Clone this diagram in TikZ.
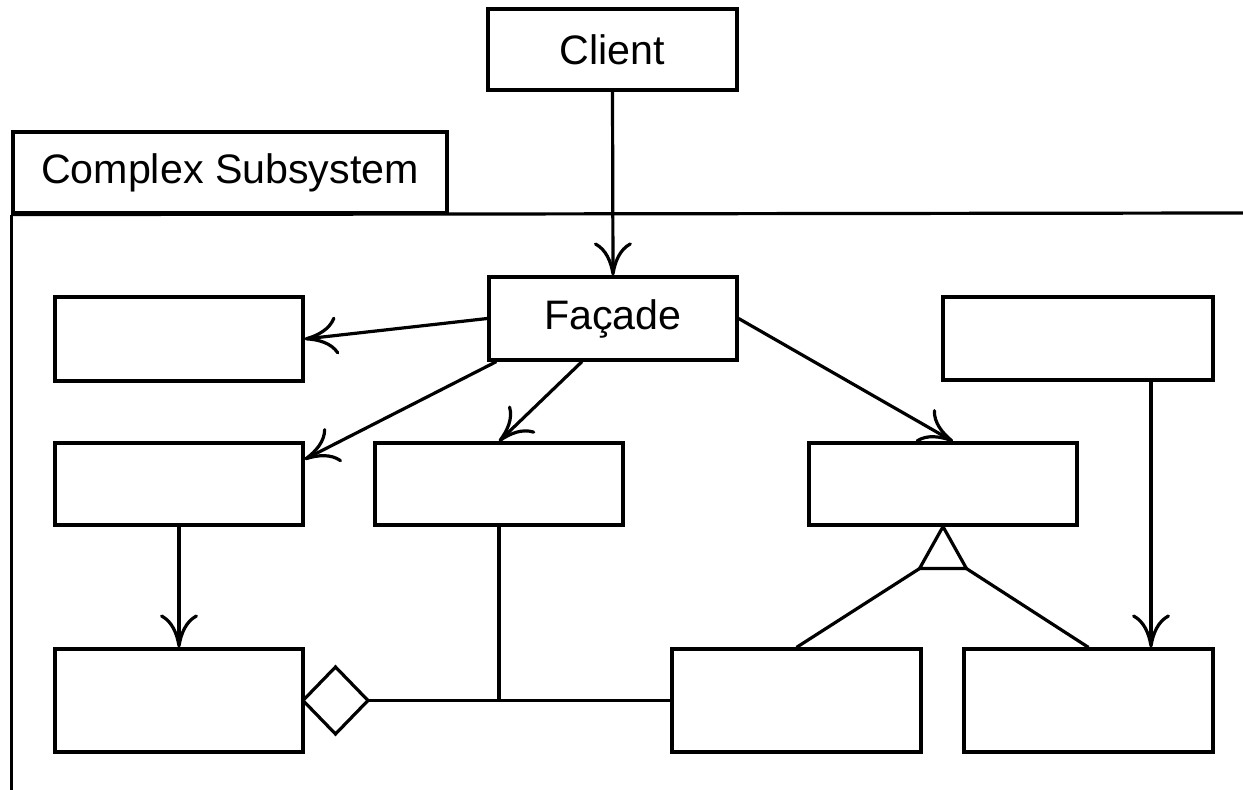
\documentclass[tikz,border=0pt]{standalone}
\usepackage{fontspec}
\setmainfont{Liberation Sans}
\usetikzlibrary{arrows.meta,calc,shapes.geometric}
\begin{document}
\begin{tikzpicture}[x=0.5pt,y=-0.5pt,
  line width=1.6pt,
  font=\fontsize{20.6}{24}\selectfont,
  cls/.style={draw, inner sep=0pt, fill=white, minimum width=124pt, minimum height=41pt},
  tall/.style={cls, minimum height=51.5pt},
  dep/.style={-{Computer Modern Rightarrow[length=16.5pt,width=19pt]}},
  agg/.style={draw, diamond, inner sep=0pt, outer sep=0pt, fill=white, minimum width=32.5pt, minimum height=33.5pt, anchor=west},
]
\useasboundingbox (0,0) rectangle (1243,790);

% package frame with its name tab
\node[draw, inner sep=0pt, minimum width=217pt, minimum height=40.5pt] (tab) at (230,172.5) {Complex Subsystem};
\coordinate (pkgbottom) at (13,790);
\coordinate (pkgright) at (1243,213);
\draw (tab.south west) -- (tab.south west |- pkgbottom);
\draw (tab.south west) -- (pkgright);

% classes
\node[cls, minimum width=124.5pt, minimum height=40.5pt] (client) at (612.5,49.5) {Client};
\node[cls, minimum height=41.5pt] (facade) at (613,318.5) {Façade};
\node[cls, minimum height=42pt] (a) at (179,339) {};
\node[cls] (b) at (179,484) {};
\node[cls] (c) at (499,484) {};
\node[cls, minimum width=134pt] (d) at (943,484) {};
\node[cls, minimum width=135pt, minimum height=41.5pt] (e) at (1078,338.5) {};
\node[tall] (f) at (179,700.5) {};
\node[tall, minimum width=124.5pt] (g) at (796.5,700.5) {};
\node[tall, minimum width=124.5pt] (h) at (1088.5,700.5) {};

% dependencies
\draw[dep] (client.south) -- (facade.north);
\draw[dep] (facade.west) -- (a.east);
\draw[dep] ([xshift=4.5pt]facade.south west) -- ([yshift=-9pt]b.north east);
\draw[dep] ([xshift=-15.5pt]facade.south) -- (c.north);
\draw[dep] (facade.east) -- ([xshift=5pt]d.north);
\draw[dep] (b.south) -- (f.north);
\coordinate (hin) at ([xshift=31.25pt]h.north);
\draw[dep] (hin |- e.south) -- (hin);

% aggregation
\node[agg] (dia) at ([xshift=-0.8pt]f.east) {};
\draw (dia.east) -- (g.west);
\draw (c.south) -- (c.south |- dia.east);

% generalization
\coordinate (tl) at ($(d.south)+(-23.5,42)$);
\coordinate (tr) at ($(d.south)+(23.5,42)$);
\draw (tl) -- (g.north);
\draw (tr) -- (h.north);
\draw[fill=white, line join=miter] (d.south) -- (tl) -- (tr) -- cycle;
\end{tikzpicture}
\end{document}
